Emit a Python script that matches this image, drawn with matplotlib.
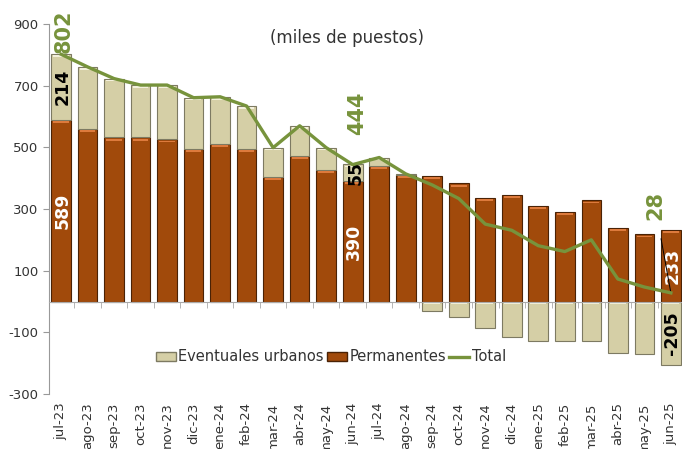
import matplotlib
matplotlib.use('AGG')

import numpy as np
import matplotlib.pyplot as plt
from matplotlib.patches import Patch
from matplotlib.lines import Line2D

months = ['jul-23', 'ago-23', 'sep-23', 'oct-23', 'nov-23', 'dic-23', 'ene-24', 'feb-24',
          'mar-24', 'abr-24', 'may-24', 'jun-24', 'jul-24', 'ago-24', 'sep-24', 'oct-24',
          'nov-24', 'dic-24', 'ene-25', 'feb-25', 'mar-25', 'abr-25', 'may-25', 'jun-25']
permanentes = [589, 561, 532, 532, 526, 494, 510, 494, 405, 472, 428, 390,
               439, 411, 408, 383, 336, 345, 309, 290, 328, 239, 218, 233]
eventuales = [214, 200, 191, 170, 176, 167, 154, 140, 94, 98, 71, 55,
              28, 3, -30, -49, -85, -114, -128, -128, -128, -166, -171, -205]
total = [802, 761, 723, 702, 702, 661, 664, 634, 499, 570, 499, 444,
         467, 414, 378, 334, 251, 231, 181, 162, 200, 73, 47, 28]
yticks = [-300, -100, 100, 300, 500, 700, 900]

BROWN = '#a14a0b'
BROWN_EDGE = '#4a2205'
TAN = '#d5cfa6'
TAN_EDGE = '#7d7a62'
GREEN = '#77933c'


def main():
  plt.rcParams['font.family'] = ['DejaVu Sans']
  plt.rcParams['axes.unicode_minus'] = False
  perm = np.array(permanentes)
  even = np.array(eventuales)
  tot = np.array(total)
  x = np.arange(len(months))

  fig = plt.figure(figsize=(6.82, 4.49), dpi=100)
  ax = fig.add_axes([0.072, 0.1225, 0.928, 0.824])

  w = 0.74
  ax.bar(x, perm, width=w, color=BROWN, edgecolor=BROWN_EDGE, linewidth=0.8, zorder=2)
  ev_bottom = np.where(even >= 0, perm, 0)
  ax.bar(x, even, bottom=ev_bottom, width=w, color=TAN, edgecolor=TAN_EDGE,
         linewidth=0.8, zorder=2)
  # bevel highlights on top of each segment
  ax.bar(x, 6, bottom=perm - 10, width=w * 0.8, color='#dd7a3c', linewidth=0, zorder=3)
  pos = even > 8
  ax.bar(x[pos], 5, bottom=(perm + even)[pos] - 9, width=w * 0.8, color='#f3f0dc',
         linewidth=0, zorder=3)
  neg = even < -8
  ax.bar(x[neg], 5, bottom=-9, width=w * 0.8, color='#f3f0dc', linewidth=0, zorder=3)

  ax.plot(x, tot, color=GREEN, linewidth=2.4, zorder=4)

  # data labels
  lab = dict(rotation=90, ha='center', va='center', fontweight='bold', fontsize=12.5)
  ax.text(0.05, perm[0] / 2, str(perm[0]), color='white', **lab)
  ax.text(0.05, perm[0] + even[0] / 2, str(even[0]), color='black', **lab)
  ax.text(0.1, tot[0] + 5, str(tot[0]), color=GREEN, rotation=90, ha='center',
          va='bottom', fontweight='bold', fontsize=15, clip_on=False)
  ax.text(11.05, perm[11] / 2, str(perm[11]), color='white', **lab)
  ax.text(11.1, perm[11] + even[11] / 2, str(even[11]), color='black', **lab)
  ax.text(11.15, tot[11] + 165, str(tot[11]), color=GREEN, rotation=90, ha='center',
          va='center', fontweight='bold', fontsize=15)
  ax.text(23.05, perm[23] / 2, str(perm[23]), color='white', **lab)
  ax.text(23.05, even[23] / 2, str(even[23]), color='black', **lab)
  ax.annotate(str(tot[23]), xy=(23, tot[23]), xytext=(22.4, tot[23] + 285),
              color=GREEN, rotation=90, ha='center', va='center', fontweight='bold',
              fontsize=15, arrowprops=dict(arrowstyle='-', color='black', lw=0.7,
                                           shrinkA=12, shrinkB=0))

  ax.text(0.47, 0.962, '(miles de puestos)', transform=ax.transAxes, ha='center',
          va='center', fontsize=12, color='#333333')

  ax.set_xlim(-0.45, 23.42)
  ax.set_ylim(-300, 900)
  ax.set_yticks(yticks)
  ax.tick_params(axis='y', labelsize=9.5, colors='#333333', length=4, color='#999999')
  for s in ['top', 'right']:
    ax.spines[s].set_visible(False)
  ax.spines['left'].set_color('#999999')
  ax.spines['bottom'].set_position(('data', 0))
  ax.spines['bottom'].set_color('#aaaaaa')
  ax.spines['bottom'].set_zorder(5)
  ax.set_xticks(x)
  ax.set_xticklabels([])
  ax.tick_params(axis='x', which='major', length=0)
  ax.set_xticks(x[:-1] + 0.5, minor=True)
  ax.tick_params(axis='x', which='minor', length=4, color='#aaaaaa', direction='out')

  sec = ax.secondary_xaxis(0.0)
  sec.set_xticks(x, months, rotation=90, fontsize=9.5, color='#333333')
  sec.tick_params(length=0, pad=6)
  sec.spines['bottom'].set_visible(False)

  handles = [Patch(facecolor=TAN, edgecolor=TAN_EDGE, label='Eventuales urbanos'),
             Patch(facecolor=BROWN, edgecolor=BROWN_EDGE, label='Permanentes'),
             Line2D([], [], color=GREEN, linewidth=2.4, label='Total')]
  ax.legend(handles=handles, loc='center', bbox_to_anchor=(0.445, 0.1), ncol=3,
            frameon=False, fontsize=10.5, handlelength=1.4, handleheight=0.6,
            handletextpad=0.15, columnspacing=0.2, labelcolor='#333333')

  fig.savefig('out.png', dpi=100)


if __name__ == "__main__":
  main()
